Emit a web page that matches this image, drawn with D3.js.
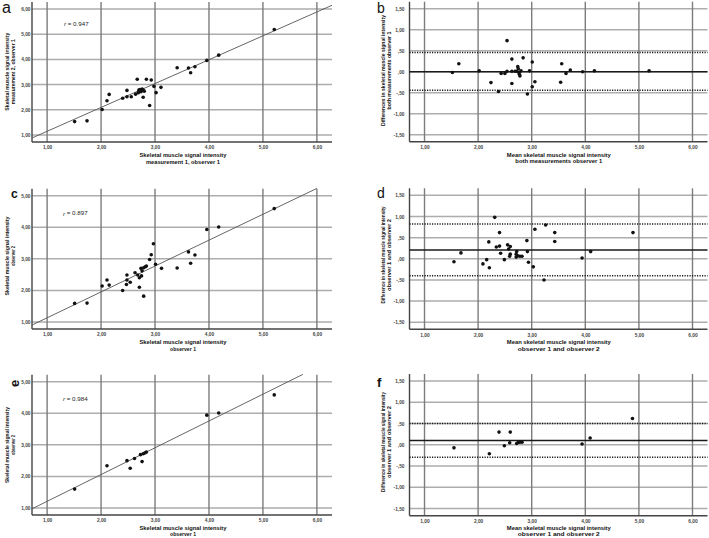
<!DOCTYPE html>
<html>
<head>
<meta charset="utf-8">
<script src="https://cdn.jsdelivr.net/npm/d3@7/dist/d3.min.js"></script>
<style>
body { margin: 0; background: #fff; }
svg { display: block; font-family: "Liberation Sans", Arial, sans-serif; }
</style>
</head>
<body>
<svg id="chart" width="709" height="538"></svg>
<script>
// a: measurement 1 vs measurement 2, observer 1
var aX = [1.51,1.74,2.02,2.11,2.15,2.40,2.48,2.48,2.56,2.64,2.67,2.69,2.70,2.72,2.74,2.76,2.78,2.80,2.74,2.78,2.84,2.90,2.93,2.98,3.02,3.11,3.41,3.62,3.66,3.74,3.96,4.18,5.21];
var aY = [1.53,1.56,2.01,2.36,2.61,2.46,2.77,2.52,2.52,2.62,3.21,2.68,2.78,2.80,2.76,2.82,2.78,2.74,2.72,2.50,3.21,2.17,3.18,2.93,2.68,2.89,3.67,3.66,3.47,3.71,3.96,4.17,5.19];
var fitA = [[0.72, 0.88], [6.28, 6.15]];

// b: bland-altman, observer 1
var bMean = [1.52,1.64,2.02,2.24,2.38,2.43,2.50,2.54,2.54,2.63,2.63,2.63,2.69,2.72,2.74,2.75,2.76,2.77,2.78,2.80,2.84,2.92,2.96,3.01,3.01,3.06,3.54,3.56,3.64,3.72,3.95,4.17,5.19];
var bDiff = [-0.02,0.19,0.02,-0.26,-0.47,-0.04,-0.04,0.01,0.74,0.30,0.01,-0.28,0.01,0.01,0.12,0.07,-0.02,-0.06,-0.10,0.02,0.33,-0.53,0.02,0.23,-0.36,-0.24,-0.25,0.19,-0.04,0.04,0.00,0.02,0.02];
var limB = [-0.44, 0.00, 0.46];   // lower, mean, upper

// c: observer 1 vs observer 2
var cX = [1.51,1.74,2.02,2.11,2.15,2.40,2.48,2.48,2.47,2.54,2.63,2.68,2.71,2.75,2.71,2.74,2.76,2.79,2.82,2.84,2.79,2.90,2.93,2.97,3.01,3.12,3.41,3.62,3.66,3.74,3.96,4.18,5.21];
var cY = [1.59,1.60,2.14,2.33,2.17,2.00,2.49,2.33,2.19,2.26,2.56,2.49,2.40,2.46,2.10,2.70,2.62,2.72,2.75,2.77,1.82,2.98,3.13,3.48,2.83,2.70,2.71,3.22,2.86,3.12,3.93,4.01,4.59];
var fitC = [[0.72, 0.905], [6.0, 5.23]];

// d: bland-altman observer 1 / observer 2
var dMean = [1.55,1.68,2.09,2.16,2.20,2.21,2.31,2.34,2.40,2.40,2.42,2.49,2.55,2.57,2.59,2.60,2.60,2.71,2.71,2.72,2.74,2.78,2.82,2.91,2.92,2.94,3.03,3.06,3.23,3.26,3.43,3.43,3.94,4.10,4.89];
var dDiff = [-0.07,0.14,-0.12,-0.02,0.40,-0.21,0.98,0.28,0.30,0.62,0.13,-0.02,0.33,0.23,0.06,0.29,0.11,0.11,0.04,0.17,0.07,0.06,0.06,0.43,0.17,-0.08,-0.19,0.70,-0.50,0.80,0.62,0.41,0.02,0.17,0.62];
var limD = [-0.40, 0.21, 0.82];

// e: observer 1 vs observer 2 (subset)
var eX = [1.51,2.11,2.48,2.54,2.62,2.73,2.76,2.78,2.81,2.84,3.96,4.18,5.21];
var eY = [1.60,2.34,2.50,2.26,2.57,2.69,2.47,2.72,2.74,2.77,3.94,4.01,4.58];
var fitE = [[0.72, 0.975], [5.74, 5.23]];

// f: bland-altman subset
var fMean = [1.55,2.21,2.39,2.49,2.59,2.60,2.72,2.75,2.78,2.82,3.94,4.09,4.88];
var fDiff = [-0.07,-0.21,0.30,-0.02,0.05,0.30,0.03,0.06,0.06,0.06,0.02,0.16,0.62];
var limF = [-0.29, 0.10, 0.50];

// ticks
var xTicks = [1, 2, 3, 4, 5, 6];
var yTicksA = [1, 2, 3, 4, 5, 6];
var yTicksCE = [1, 2, 3, 4, 5];
var yTicksBA = [-1.5, -1, -0.5, 0, 0.5, 1, 1.5];

var titleScatter1 = ["Skeletal muscle signal intensity", "measurement 1, observer 1"];
var titleScatter2 = ["Skeletal muscle signal intensity", "measurement 2, observer 1"];
var titleMeanB = ["Mean skeletal muscle signal intensity", "both measurements observer 1"];
var titleDiffB = ["Differences in skeletal muscle signal intensity", "both measurements observer 1"];
var titleObs1 = ["Skeletal muscle signal intensity", "observer 1"];
var titleObs2 = ["Skeletal muscle signal intensity", "observer 2"];
var titleMeanD = ["Mean skeletal muscle signal intensity", "observer 1 and observer 2"];
var titleDiffD = ["Difference in skeletal muscle signal intensity", "observer 1 and observer 2"];

var svg = d3.select("#chart");

// spss style number: 1,00  ,50  -,50
function spssFmt(v) {
    var s = Math.abs(v).toFixed(2).replace(".", ",");
    if (s.charAt(0) === "0") s = s.substring(1);
    return (v < 0 ? "-" : "") + s;
}

function drawPanel(p) {
    var x = d3.scaleLinear().domain([0.72, 6.28]).range([p.left, p.right]);
    var y = d3.scaleLinear().domain(p.yDomain).range([p.bottom, p.top]);
    var g = svg.append("g");

    // horizontal grid (lighter)
    g.selectAll(".hg").data(p.yTicks).enter().append("line")
        .attr("x1", p.left).attr("x2", p.right)
        .attr("y1", function(d) { return y(d); }).attr("y2", function(d) { return y(d); })
        .attr("stroke", "#adadad").attr("stroke-width", 1.5);

    // vertical grid (darker)
    g.selectAll(".vg").data(xTicks).enter().append("line")
        .attr("x1", function(d) { return x(d); }).attr("x2", function(d) { return x(d); })
        .attr("y1", p.top).attr("y2", p.bottom)
        .attr("stroke", "#7c7c7c").attr("stroke-width", 1.4);

    // axes
    var xa = g.append("g").attr("transform", "translate(0," + p.bottom + ")")
        .call(d3.axisBottom(x).tickValues(xTicks).tickSize(0).tickPadding(4).tickFormat(spssFmt));
    var ya = g.append("g").attr("transform", "translate(" + p.left + ",0)")
        .call(d3.axisLeft(y).tickValues(p.yTicks).tickSize(0).tickPadding(p.yPad).tickFormat(spssFmt));
    [xa, ya].forEach(function(a) {
        a.select(".domain").remove();
        a.selectAll("text").attr("font-size", 4.8).attr("font-weight", "bold").attr("fill", "#444")
            .attr("font-family", "Liberation Sans, Arial, sans-serif");
    });
    g.append("line").attr("x1", p.left).attr("x2", p.right).attr("y1", p.bottom).attr("y2", p.bottom)
        .attr("stroke", "#444").attr("stroke-width", 1.4);
    g.append("line").attr("x1", p.left).attr("x2", p.left).attr("y1", p.top).attr("y2", p.bottom)
        .attr("stroke", "#444").attr("stroke-width", 1.4);

    if (p.fit) {
        g.append("line")
            .attr("x1", x(p.fit[0][0])).attr("y1", y(p.fit[0][1]))
            .attr("x2", x(p.fit[1][0])).attr("y2", y(p.fit[1][1]))
            .attr("stroke", "#555").attr("stroke-width", 0.9);
        g.append("text").attr("x", p.rPos[0]).attr("y", p.rPos[1])
            .attr("font-size", 6.2).attr("fill", "#222").attr("dominant-baseline", "central")
            .html("<tspan font-style='italic'>r</tspan> = " + p.r);
    }

    if (p.lim) {
        g.selectAll(".lim").data(p.lim).enter().append("line")
            .attr("x1", p.left).attr("x2", p.right)
            .attr("y1", function(d) { return y(d); }).attr("y2", function(d) { return y(d); })
            .attr("stroke", "#1a1a1a")
            .attr("stroke-width", 1.5)
            .attr("stroke-dasharray", function(d, i) { return i === 1 ? null : "1.2,1.3"; });
    }

    g.selectAll(".pt").data(p.xs).enter().append("circle")
        .attr("cx", function(d) { return x(d); })
        .attr("cy", function(d, i) { return y(p.ys[i]); })
        .attr("r", 1.8).attr("fill", "#111");

    // axis titles
    p.xTitle.forEach(function(t, i) {
        g.append("text").attr("x", p.xTitleCx).attr("y", p.xTitleY[i])
            .attr("text-anchor", "middle").attr("dominant-baseline", "central")
            .attr("font-size", 6).attr("font-weight", "bold").attr("fill", "#111")
            .attr("textLength", p.xTitleW[i]).attr("lengthAdjust", "spacingAndGlyphs")
            .text(t);
    });
    p.yTitle.forEach(function(t, i) {
        g.append("text")
            .attr("transform", "translate(" + p.yTitleX[i] + "," + p.yTitleCy + ") rotate(-90)")
            .attr("text-anchor", "middle").attr("dominant-baseline", "central")
            .attr("font-size", 6).attr("font-weight", "bold").attr("fill", "#111")
            .attr("textLength", p.yTitleW[i]).attr("lengthAdjust", "spacingAndGlyphs")
            .text(t);
    });

    // panel letter
    var lab = g.append("text").attr("x", p.label.x).attr("y", p.label.y)
        .attr("font-size", p.label.size).attr("font-weight", p.label.bold ? "bold" : "normal")
        .attr("fill", "#111").text(p.label.t);
    if (p.label.rot) lab.attr("transform", "rotate(-90," + p.label.x + "," + p.label.y + ")");
}

var L = { left: 32, right: 332, yPad: 1.5, xTitleCx: 183, yTitleX: [7.4, 13.4] };
var R = { left: 409.5, right: 707.5, yPad: 5, xTitleCx: 558.8, yTitleX: [383.4, 389.4] };

var panels = [
    Object.assign({}, L, { top: 2, bottom: 142, yDomain: [0.72, 6.28], yTicks: yTicksA,
        xs: aX, ys: aY, fit: fitA, r: "0.947", rPos: [64, 23.3],
        xTitle: titleScatter1, xTitleW: [87, 74], xTitleY: [155.4, 161.6],
        yTitle: titleScatter2, yTitleW: [78, 65], yTitleCy: 71.7,
        label: { t: "a", x: 2, y: 12.5, size: 16 } }),
    Object.assign({}, R, { top: 1.7, bottom: 141.7, yDomain: [-1.667, 1.667], yTicks: yTicksBA,
        xs: bMean, ys: bDiff, lim: limB,
        xTitle: titleMeanB, xTitleW: [104, 87], xTitleY: [154.6, 160.8],
        yTitle: titleDiffB, yTitleW: [111, 78], yTitleCy: 70.5,
        label: { t: "b", x: 377, y: 13, size: 14 } }),
    Object.assign({}, L, { top: 188.7, bottom: 329, yDomain: [0.78, 5.22], yTicks: yTicksCE,
        xs: cX, ys: cY, fit: fitC, r: "0.897", rPos: [63, 212.7],
        xTitle: titleObs1, xTitleW: [87, 26], xTitleY: [342.3, 348.5],
        yTitle: titleObs2, yTitleW: [79, 20], yTitleCy: 256,
        label: { t: "c", x: 11, y: 197.5, size: 12, bold: true } }),
    Object.assign({}, R, { top: 188.3, bottom: 329.3, yDomain: [-1.667, 1.667], yTicks: yTicksBA,
        xs: dMean, ys: dDiff, lim: limD,
        xTitle: titleMeanD, xTitleW: [104, 82], xTitleY: [342.3, 348.5],
        yTitle: titleDiffD, yTitleW: [97, 72], yTitleCy: 255,
        label: { t: "d", x: 377, y: 198, size: 14 } }),
    Object.assign({}, L, { top: 374.7, bottom: 515, yDomain: [0.78, 5.22], yTicks: yTicksCE,
        xs: eX, ys: eY, fit: fitE, r: "0.984", rPos: [63, 398.3],
        xTitle: titleObs1, xTitleW: [87, 26], xTitleY: [527.6, 533.8],
        yTitle: titleObs2, yTitleW: [76, 20], yTitleCy: 445,
        label: { t: "e", x: 18.5, y: 387, size: 13, bold: true, rot: true } }),
    Object.assign({}, R, { top: 374, bottom: 515.7, yDomain: [-1.667, 1.667], yTicks: yTicksBA,
        xs: fMean, ys: fDiff, lim: limF,
        xTitle: titleMeanD, xTitleW: [104, 82], xTitleY: [527.6, 533.8],
        yTitle: titleDiffD, yTitleW: [100, 72], yTitleCy: 442,
        label: { t: "f", x: 377, y: 387, size: 13, bold: true } })
];

panels.forEach(drawPanel);
</script>
</body>
</html>
